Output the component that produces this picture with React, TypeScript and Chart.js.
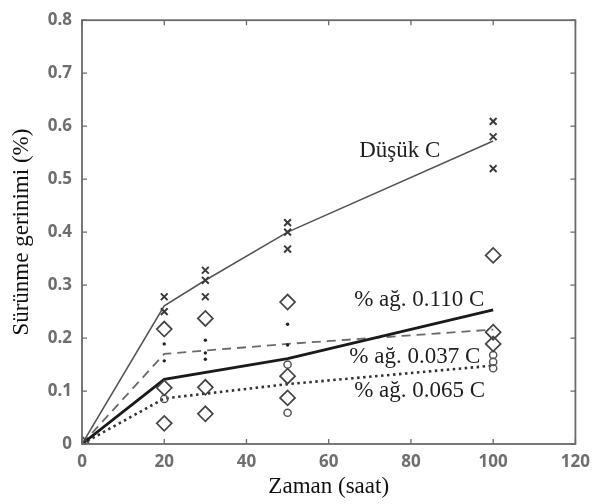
import React, { useEffect, useRef } from "react";
import { Chart, registerables } from "chart.js";

Chart.register(...registerables);

// ---- axes ----
const xTicks = [0, 20, 40, 60, 80, 100, 120];
const xTickLabels = ["0", "20", "40", "60", "80", "100", "120"];
const yTicks = [0, 0.1, 0.2, 0.3, 0.4, 0.5, 0.6, 0.7, 0.8];
const yTickLabels = ["0", "0.1", "0.2", "0.3", "0.4", "0.5", "0.6", "0.7", "0.8"];
const xTitle = "Zaman (saat)";
const yTitle = "Sürünme gerinimi (%)";

// ---- fitted lines ----
const lowCTimes = [0, 20, 30, 50, 100];
const lowCValues = [0, 0.261, 0.309, 0.4, 0.572];
const c110Times = [0, 20, 50, 100];
const c110Values = [0, 0.122, 0.161, 0.253];
const c037Times = [0, 20, 50, 100];
const c037Values = [0, 0.17, 0.189, 0.216];
const c065Times = [0, 20, 50, 100];
const c065Values = [0, 0.086, 0.113, 0.148];

// ---- measured points ----
const crossTimes = [20, 20, 30, 30, 30, 50, 50, 50, 100, 100, 100];
const crossValues = [0.278, 0.25, 0.328, 0.309, 0.278, 0.418, 0.4, 0.368, 0.609, 0.58, 0.52];
const dotTimes = [20, 20, 30, 30, 30, 50, 50];
const dotValues = [0.189, 0.157, 0.196, 0.172, 0.16, 0.226, 0.187];
const diamondTimes = [0, 20, 20, 20, 30, 30, 30, 50, 50, 50, 100, 100, 100];
const diamondValues = [0, 0.217, 0.106, 0.039, 0.237, 0.107, 0.057, 0.268, 0.128, 0.087, 0.356, 0.211, 0.189];
const circleTimes = [20, 50, 50, 100, 100, 100];
const circleValues = [0.085, 0.15, 0.059, 0.168, 0.155, 0.143];

// ---- labels on the plot ----
const noteTexts = ["Düşük C", "% ağ. 0.110 C", "% ağ. 0.037 C", "% ağ. 0.065 C"];
const noteTimes = [67.4, 66.2, 65.0, 66.2];
const noteValues = [0.554, 0.272, 0.165, 0.1];

const pts = (xs: number[], ys: number[]) => xs.map((x, i) => ({ x, y: ys[i] }));

const framePlugin = {
  id: "frame",
  afterDatasetsDraw(chart: any) {
    const { ctx, chartArea } = chart;
    const { left, right, top, bottom } = chartArea;
    const xs = chart.scales.x;
    const ys = chart.scales.y;
    ctx.save();
    ctx.strokeStyle = "#6a6a6a";
    ctx.lineWidth = 1.8;
    ctx.strokeRect(left, top, right - left, bottom - top);
    ctx.lineWidth = 1.3;
    ctx.beginPath();
    xTicks.forEach((v) => {
      const px = xs.getPixelForValue(v);
      ctx.moveTo(px, bottom);
      ctx.lineTo(px, bottom - 5);
      ctx.moveTo(px, top);
      ctx.lineTo(px, top + 5);
    });
    yTicks.forEach((v) => {
      const py = ys.getPixelForValue(v);
      ctx.moveTo(left, py);
      ctx.lineTo(left + 5, py);
      ctx.moveTo(right, py);
      ctx.lineTo(right - 5, py);
    });
    ctx.stroke();
    ctx.fillStyle = "#1e1e1e";
    ctx.font = '23px "Liberation Serif", "Times New Roman", serif';
    ctx.textAlign = "left";
    ctx.textBaseline = "middle";
    noteTexts.forEach((t, i) => {
      ctx.fillText(t, xs.getPixelForValue(noteTimes[i]), ys.getPixelForValue(noteValues[i]));
    });
    ctx.restore();
  },
};

export default function App() {
  const ref = useRef<HTMLCanvasElement | null>(null);
  useEffect(() => {
    if (!ref.current) return;
    const tickFont = { family: '"Open Sans", sans-serif', size: 17, weight: "bold" as any };
    const titleFont = { family: '"Liberation Serif", "Times New Roman", serif', size: 23, lineHeight: 1.2 };
    const chart = new Chart(ref.current, {
      type: "scatter",
      data: {
        datasets: [
          { data: pts(lowCTimes, lowCValues), showLine: true, borderColor: "#555", borderWidth: 1.6, pointRadius: 0, order: 5 },
          { data: pts(c110Times, c110Values), showLine: true, borderColor: "#1a1a1a", borderWidth: 2.8, pointRadius: 0, order: 5 },
          { data: pts(c037Times, c037Values), showLine: true, borderColor: "#6a6a6a", borderWidth: 1.8, borderDash: [9, 6], pointRadius: 0, order: 5 },
          { data: pts(c065Times, c065Values), showLine: true, borderColor: "#333", borderWidth: 2.6, borderDash: [2.5, 3.5], pointRadius: 0, order: 5 },
          { data: pts(crossTimes, crossValues), showLine: false, pointStyle: "crossRot", pointRadius: 4.8, borderColor: "#3a3a3a", borderWidth: 2, backgroundColor: "transparent", order: 1 },
          { data: pts(dotTimes, dotValues), showLine: false, pointStyle: "circle", pointRadius: 1.7, borderWidth: 0, backgroundColor: "#222", borderColor: "#222", order: 1 },
          { data: pts(diamondTimes, diamondValues), showLine: false, pointStyle: "rectRot", pointRadius: 7.5, borderColor: "#444", borderWidth: 1.7, backgroundColor: "transparent", order: 1 },
          { data: pts(circleTimes, circleValues), showLine: false, pointStyle: "circle", pointRadius: 3.6, borderColor: "#555", borderWidth: 1.5, backgroundColor: "transparent", order: 1 },
        ],
      },
      options: {
        responsive: false,
        animation: false,
        layout: { padding: { left: 0, right: 21, top: 12, bottom: 0 } },
        plugins: { legend: { display: false }, tooltip: { enabled: false } },
        scales: {
          x: {
            type: "linear",
            min: 0,
            max: 120,
            afterBuildTicks: (s: any) => { s.ticks = xTicks.map((v) => ({ value: v })); },
            afterFit: (s: any) => { s.height = 60; },
            grid: { display: false, drawTicks: false },
            border: { display: false },
            ticks: {
              padding: 8,
              color: "#6e6e6e",
              font: tickFont,
              maxRotation: 0,
              autoSkip: false,
              callback: (v: any) => { const i = xTicks.indexOf(Number(v)); return i >= 0 ? xTickLabels[i] : ""; },
            },
            title: { display: true, text: xTitle, color: "#111", font: titleFont, padding: { top: 0, bottom: 3 } },
          },
          y: {
            type: "linear",
            min: 0,
            max: 0.8,
            afterBuildTicks: (s: any) => { s.ticks = yTicks.map((v) => ({ value: v })); },
            afterFit: (s: any) => { s.width = 82; },
            grid: { display: false, drawTicks: false },
            border: { display: false },
            ticks: {
              padding: 10,
              color: "#6e6e6e",
              font: tickFont,
              autoSkip: false,
              callback: (v: any) => {
                const i = yTicks.findIndex((t) => Math.abs(t - Number(v)) < 1e-9);
                return i >= 0 ? yTickLabels[i] : "";
              },
            },
            title: { display: true, text: yTitle, color: "#111", font: titleFont, padding: { top: 8, bottom: 0 } },
          },
        },
      },
      plugins: [framePlugin],
    });
    return () => chart.destroy();
  }, []);
  return (
    <div style={{ position: "fixed", left: 0, top: 0, width: 598, height: 504, background: "#fff" }}>
      <canvas ref={ref} width={598} height={504} />
    </div>
  );
}
